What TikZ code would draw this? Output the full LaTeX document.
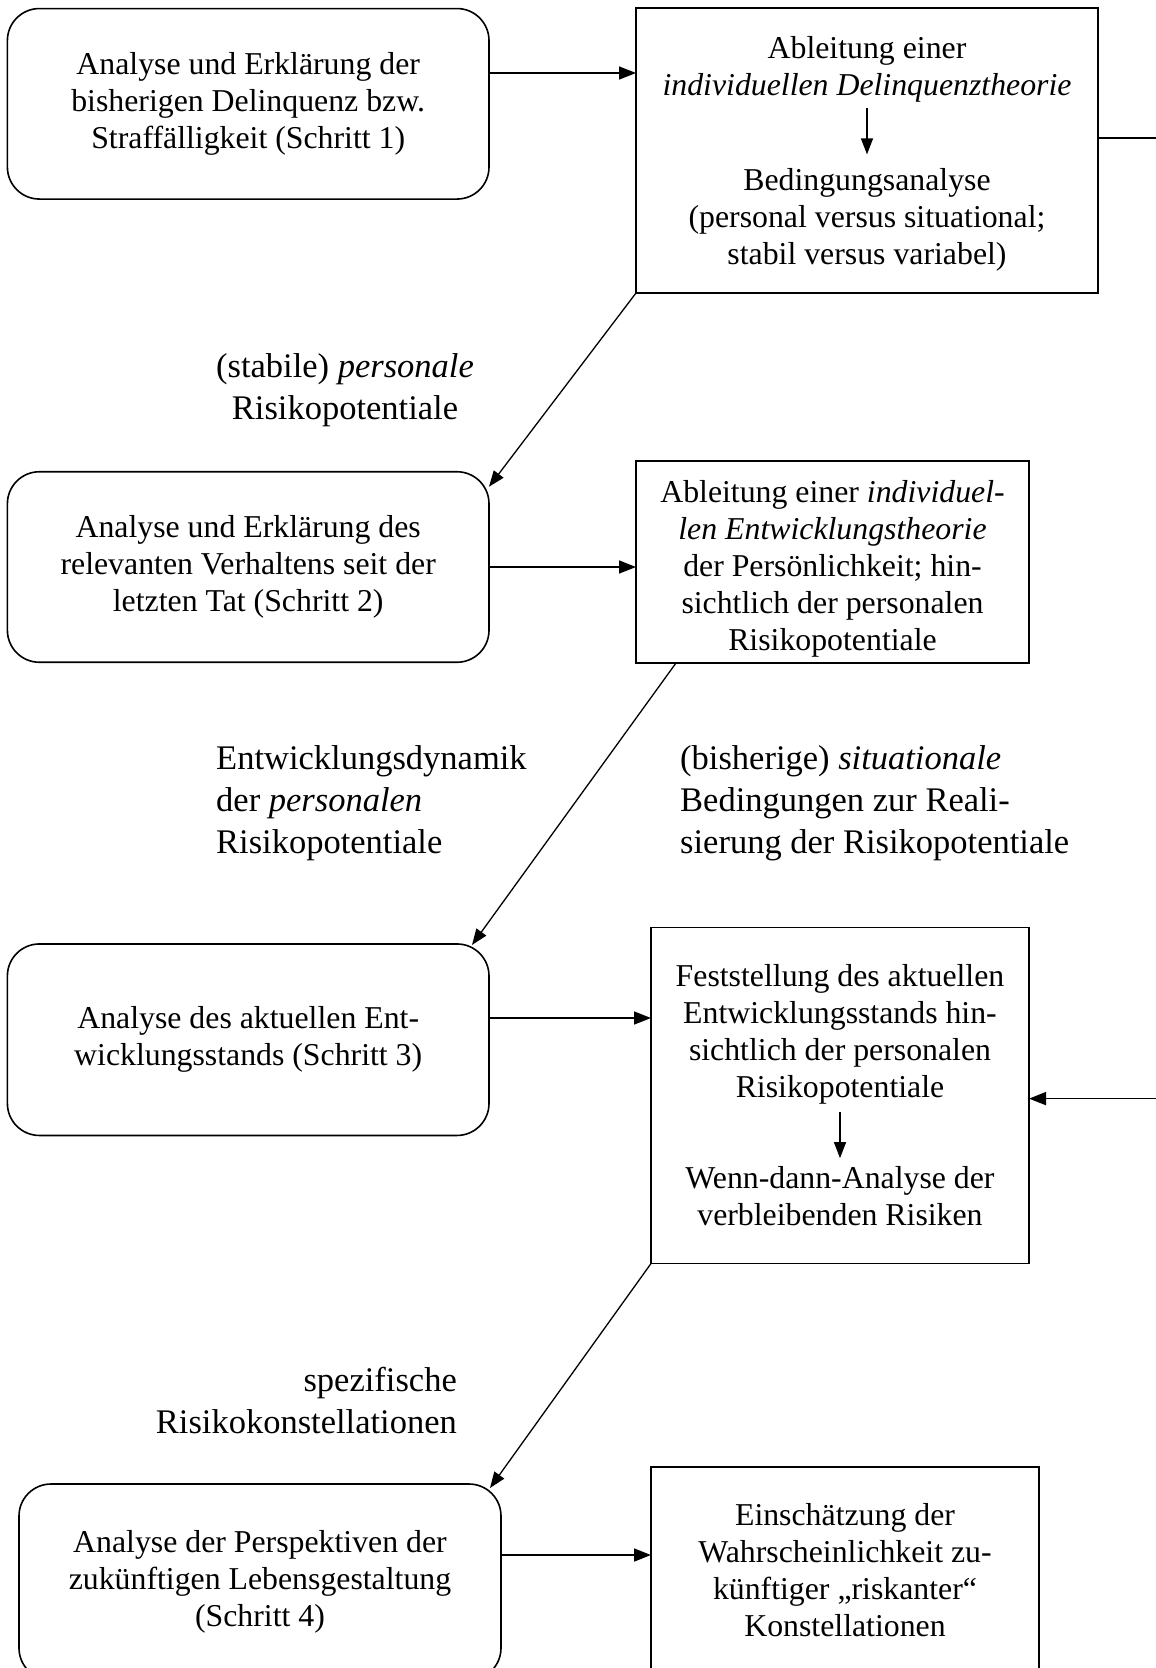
\documentclass[tikz,border=0pt]{standalone}
\usepackage{fontspec}
\setmainfont{Liberation Serif}
\usetikzlibrary{arrows.meta}
\begin{document}
\begin{tikzpicture}[x=1pt,y=-1pt,
  boxfont/.style={font=\fontsize{31.8}{37}\selectfont},
  labfont/.style={font=\fontsize{34.5}{42}\selectfont},
  rbox/.style={draw, line width=1.6pt, rounded corners=32pt, boxfont, align=center, inner sep=0pt, outer sep=0pt},
  sbox/.style={draw, line width=1.6pt, inner sep=0pt, outer sep=0pt},
  txt/.style={boxfont, align=center, inner sep=0pt},
  lab/.style={labfont, inner sep=0pt},
  arr/.style={line width=1.6pt, -{Triangle[length=17pt,width=13pt]}},
  inarr/.style={line width=1.3pt, -{Triangle[length=16pt,width=12pt]}},
  conn/.style={line width=1.3pt, -{Triangle[length=16pt,width=12pt]}},
  plain/.style={line width=1.6pt}
]
\useasboundingbox (0,0) rectangle (1156,1668);
\clip (0,0) rectangle (1156,1668);

% row 1
\node[rbox, minimum width=481.6pt, minimum height=190.5pt] (b1) at (248.2,103.8)
  {Analyse und Erklärung der\\bisherigen Delinquenz bzw.\\Straffälligkeit (Schritt 1)};
\node[sbox, minimum width=462pt, minimum height=285pt] (b2) at (867,150.5) {};
\node[txt] (b2a) at (867,69) {Ableitung einer\\\textit{individuellen Delinquenztheorie}};
\node[txt] (b2b) at (867,220) {Bedingungsanalyse\\(personal versus situational;\\stabil versus variabel)};
\draw[inarr] ([yshift=-6pt]b2a.south) -- ([yshift=14pt]b2b.north);

\node[lab, align=center] (l1) at (345,390) {(stabile) \textit{personale}\\Risikopotentiale};

% row 2
\node[rbox, minimum width=481.6pt, minimum height=190.5pt] (b3) at (248.2,567)
  {Analyse und Erklärung des\\relevanten Verhaltens seit der\\letzten Tat (Schritt 2)};
\node[sbox, minimum width=393pt, minimum height=202pt] (b4) at (832.5,562) {};
\node[txt] (b4t) at (832.5,569) {Ableitung einer \textit{individuel-}\\\textit{len Entwicklungstheorie}\\der Persönlichkeit; hin-\\sichtlich der personalen\\Risikopotentiale};

\node[lab, align=left, anchor=west] (l2) at (216,803) {Entwicklungsdynamik\\der \textit{personalen}\\Risikopotentiale};
\node[lab, align=left, anchor=west] (l3) at (680,803) {(bisherige) \textit{situationale}\\Bedingungen zur Reali-\\sierung der Risikopotentiale};

% row 3
\node[rbox, minimum width=481.6pt, minimum height=191.5pt] (b5) at (248.2,1039.7)
  {Analyse des aktuellen Ent-\\wicklungsstands (Schritt 3)};
\node[sbox, minimum width=378pt, minimum height=336pt] (b6) at (840,1095.5) {};
\node[txt] (b6a) at (840,1034) {Feststellung des aktuellen\\Entwicklungsstands hin-\\sichtlich der personalen\\Risikopotentiale};
\node[txt] (b6b) at (840,1196) {Wenn-dann-Analyse der\\verbleibenden Risiken};
\draw[inarr] ([yshift=-8pt]b6a.south) -- ([yshift=8pt]b6b.north);

\node[lab, align=right, anchor=east] (l4) at (457,1401) {spezifische\\Risikokonstellationen};

% row 4
\node[rbox, minimum width=482pt, minimum height=196pt] (b7) at (260,1582)
  {Analyse der Perspektiven der\\zukünftigen Lebensgestaltung\\(Schritt 4)};
\node[sbox, minimum width=388pt, minimum height=206pt] (b8) at (845,1570) {};
\node[txt] (b8t) at (845,1570) {Einschätzung der\\Wahrscheinlichkeit zu-\\künftiger „riskanter“\\Konstellationen};

% horizontal connectors
\coordinate (p1) at ([yshift=30.8pt]b1.east);
\draw[arr] (p1) -- (p1 -| b2.west);
\draw[arr] (b3.east) -- (b3.east -| b4.west);
\coordinate (p5) at ([yshift=21.7pt]b5.east);
\draw[arr] (p5) -- (p5 -| b6.west);
\coordinate (p7) at ([yshift=27pt]b7.east);
\draw[arr] (p7) -- (p7 -| b8.west);

% right side lines
\coordinate (p2) at ([yshift=12.5pt]b2.east);
\coordinate (e1) at (1175,0);
\draw[plain] (p2) -- (p2 -| e1);
\coordinate (e2) at (1175,1098.6);
\draw[arr] (e2) -- (e2 -| b6.east);

% diagonal connectors
\draw[conn] (b2.south west) -- ([yshift=-15pt]b3.north east);
\draw[conn] ([xshift=40pt]b4.south west) -- ([xshift=-17pt,yshift=-1pt]b5.north east);
\draw[conn] (b6.south west) -- ([xshift=-11pt,yshift=-4pt]b7.north east);
\end{tikzpicture}
\end{document}
